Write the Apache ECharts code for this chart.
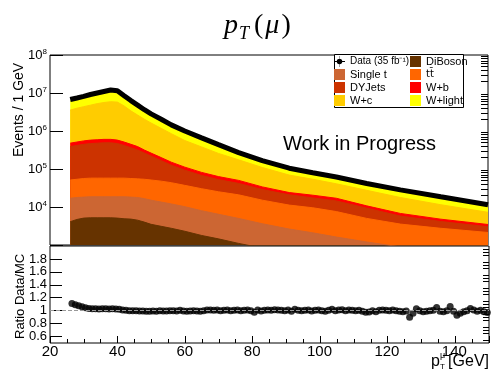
<!DOCTYPE html>
<html><head><meta charset="utf-8">
<script src="https://cdn.jsdelivr.net/npm/echarts@6/dist/echarts.min.js"></script>
<style>html,body{margin:0;padding:0;background:#fff}#c{width:491px;height:381px}</style>
</head><body><div id="c"></div>
<script>
// ---------- data ----------
const pT = [26,28,30,32,34,36,38,40,42,44,46,48,50,53,56,60,65,70,76,83,91,98,105,114,124,136,150];
const diBoson   = [4100,4700,5100,5200,5200,5200,5200,5100,4900,4800,4500,4000,3500,3100,2750,2300,1780,1450,1100,830,600,470,370,280,210,150,105];
const singleTop = [12900,13100,13100,13400,13400,13400,13400,13500,13700,13400,13300,12600,11600,10400,9300,7900,6200,5000,3900,2800,2030,1620,1250,920,680,480,310];
const ttbar     = [34300,35900,38000,38900,38900,38900,38900,38900,38900,38000,37200,37100,36200,34400,31600,26900,22300,18700,15900,11500,8600,7460,5960,3810,2660,2120,1720];
const dyJets    = [338000,363000,390000,410000,421000,432000,432000,410000,359000,307000,261000,209000,167000,118000,82000,56000,37400,27400,20800,13700,9700,7830,6870,4320,2210,1410,880];
const wPlusB    = [90000,96000,103000,108000,110000,113000,113000,108000,96000,84000,73000,53000,44000,34000,25500,18900,13700,10600,8400,5000,3100,3040,2530,1380,1010,620,450];
const wPlusC    = [3070000,3470000,3820000,4210000,4660000,5020000,5290000,5180000,4060000,2940000,2240000,1730000,1360000,975000,700000,450000,299000,194000,124000,75800,45200,33300,23800,16800,11000,6700,3780];
const wPlusLight= [2620000,2940000,3400000,4130000,4520000,5090000,5860000,5470000,3940000,2920000,2160000,1590000,1200000,867000,594000,438000,265000,170000,89000,56300,35500,25700,20900,14100,10400,7140,4240];
const dataEvents= [6760000,7410000,8130000,9120000,10000000,10960000,12000000,11500000,8510000,6310000,4790000,3630000,2820000,2040000,1450000,1000000,661000,437000,269000,166000,105000,79400,61700,41700,28200,18600,11500];

// ratio Data/MC, 1 GeV bins starting at 26 GeV
const ratioFirstBin = 26;
const ratioValues = [1.11,1.09,1.075,1.06,1.045,1.035,1.03,1.03,1.025,1.03,1.03,1.025,1.03,1.025,1.02,1.01,1.005,1.0,1.0,1.0,
0.995,0.995,0.99,0.99,0.995,0.99,1.0,0.995,0.995,1.0,1.0,0.995,1.005,0.995,0.99,0.995,1.0,0.995,0.99,1.0,
1.01,1.01,1.005,1.01,1.0,1.005,1.01,1.0,1.005,1.01,1.0,1.005,1.01,1.0,0.975,1.01,0.995,1.005,1.01,1.005,
1.015,1.01,1.005,1.0,1.01,0.99,1.02,1.005,1.0,1.005,1.01,0.995,1.005,1.01,1.0,0.99,1.005,1.02,1.0,1.01,
1.015,1.0,1.01,1.005,1.0,1.005,0.99,0.975,0.98,1.0,0.985,1.005,1.01,1.005,1.0,1.01,1.0,0.99,0.985,0.995,
0.9,0.96,1.03,1.0,0.985,0.99,1.0,1.005,1.05,0.99,0.985,1.0,1.065,0.99,0.93,0.96,0.985,1.0,1.035,1.01,
0.99,1.005,0.985,0.97];

// tick labels / tick positions
const xTickStep = 20;
const logMultipliers = [2,3,4,5,6,7,8,9];
const logDecades = [1e3,1e4,1e5,1e6,1e7];
const ratioMajorTicks = [0.6,0.8,1.0,1.2,1.4,1.6,1.8];
const ratioTickLabels = ['0.6','0.8','1','1.2','1.4','1.6','1.8'];
const ratioMinorTicks = [0.55,0.65,0.7,0.75,0.85,0.9,0.95,1.05,1.1,1.15,1.25,1.3,1.35,1.45,1.5,1.55,1.65,1.7,1.75,1.85,1.9,1.95];

const processes = [
  {name:'DiBoson',  vals:diBoson,   color:'#663300'},
  {name:'Single t', vals:singleTop, color:'#cc6633'},
  {name:'tt\u0304', vals:ttbar,     color:'#ff6600'},
  {name:'DYJets',   vals:dyJets,    color:'#cc3300'},
  {name:'W+b',      vals:wPlusB,    color:'#ff0000'},
  {name:'W+c',      vals:wPlusC,    color:'#ffcc00'},
  {name:'W+light',  vals:wPlusLight,color:'#ffff00'}
];
const dataName = 'Data (35 fb\u207B\u00B9)';
// ---------- build ----------
let cum = pT.map(() => 0);
const stacked = processes.map(p => { cum = cum.map((s,i) => s + p.vals[i]); return Object.assign({}, p, {top: cum.slice()}); });
const FONT = 'Liberation Sans';

const areaSeries = stacked.slice().reverse().map(p => ({
  type:'line', name:p.name, xAxisIndex:0, yAxisIndex:0,
  data: pT.map((x,i) => [x, p.top[i]]),
  symbol:'none', color:p.color,
  lineStyle:{width:1, color:p.color},
  areaStyle:{color:p.color, opacity:1, origin:'start'},
  silent:true, z:2
}));

const logMinor = [];
logDecades.forEach(d => logMultipliers.forEach(m => logMinor.push(Math.log10(m*d))));

const dataIcon = 'path://M0,5.5h12v1h-12zM6,3a3,3,0,1,1,0,6a3,3,0,1,1,0,-6zM5.8,0h0.4v12h-0.4z';

const chart = echarts.init(document.getElementById('c'), null, {renderer:'canvas'});
const legendCommon = {orient:'vertical', top:56, itemWidth:11, itemHeight:11, itemGap:2, icon:'rect', padding:0, z:6,
  selectedMode:false, textStyle:{fontFamily:FONT, fontSize:11, color:'#000'}};

chart.setOption({
  animation:false,
  backgroundColor:'#fff',
  title:{
    text:'{a|p}{b|T}{c|(}{a|\u03BC}{c|)}', left:218, top:4,
    textStyle:{fontWeight:'normal', rich:{
      a:{fontFamily:'Liberation Serif', fontStyle:'italic', fontWeight:'normal', fontSize:28, lineHeight:34, color:'#000', padding:[0,1,0,1]},
      b:{fontFamily:'Liberation Serif', fontStyle:'italic', fontWeight:'normal', fontSize:18, verticalAlign:'bottom', color:'#000', padding:[0,4,0,0]},
      c:{fontFamily:'Liberation Serif', fontWeight:'normal', fontSize:28, lineHeight:34, color:'#000', padding:[0,1,0,1]}
    }}
  },
  grid:[
    {left:50, right:2, top:55, height:190, show:true, borderColor:'#000', borderWidth:1, backgroundColor:'transparent'},
    {left:50, right:2, top:246, height:97, show:true, borderColor:'#000', borderWidth:1, backgroundColor:'transparent'}
  ],
  xAxis:[
    {type:'value', gridIndex:0, min:20, max:150, interval:xTickStep, position:'bottom', offset:98,
     axisLine:{show:false}, axisTick:{show:false}, splitLine:{show:false},
     axisLabel:{fontFamily:FONT, fontSize:15, lineHeight:14, color:'#000', margin:2, formatter:v => (v % xTickStep === 0 && v < 150) ? String(v) : ''}},
    {type:'value', gridIndex:1, min:20, max:150, interval:xTickStep, axisLine:{show:false},
     axisTick:{show:true, inside:true, length:7, lineStyle:{color:'#000'}},
     minorTick:{show:true, splitNumber:4, length:4, lineStyle:{color:'#000'}},
     axisLabel:{show:false}, splitLine:{show:false}}
  ],
  yAxis:[
    {type:'log', gridIndex:0, logBase:10, min:1e3, max:1e8, axisLine:{show:false},
     axisTick:{show:true, inside:true, length:13, lineStyle:{color:'#000'}},
     axisLabel:{margin:3, color:'#000', formatter:v => { const e = Math.round(Math.log10(v)); return e === 3 ? '' : '{b|10}{s|' + e + '}'; },
       rich:{b:{fontFamily:FONT, fontSize:13, color:'#000'}, s:{fontFamily:FONT, fontSize:8, color:'#000', verticalAlign:'top', padding:[0,0,6,0]}}},
     splitLine:{show:false}},
    {type:'value', gridIndex:0, min:3, max:8, axisLine:{show:false},
     axisTick:{show:true, inside:true, length:7, customValues:logMinor, lineStyle:{color:'#000'}},
     axisLabel:{show:false}, splitLine:{show:false}},
    {type:'value', gridIndex:1, min:0.5, max:2.0, axisLine:{show:false},
     axisTick:{show:true, inside:true, length:12, customValues:ratioMajorTicks, lineStyle:{color:'#000'}},
     axisLabel:{show:false}, splitLine:{show:false}},
    {type:'value', gridIndex:1, min:0.5, max:2.0, axisLine:{show:false},
     axisTick:{show:true, inside:true, length:6, customValues:ratioMinorTicks, lineStyle:{color:'#000'}},
     axisLabel:{show:false}, splitLine:{show:false}}
  ],
  legend:[
    Object.assign({left:410, data:[processes[0].name, {name:processes[2].name, textStyle:{fontFamily:'DejaVu Sans', fontSize:10}}, 'W+b', 'W+light']}, legendCommon),
    Object.assign({left:334, data:[{name:dataName, icon:dataIcon, textStyle:{fontSize:10}}, 'Single t', 'DYJets', 'W+c']}, legendCommon)
  ],
  series: areaSeries.concat([
    {type:'line', name:dataName, xAxisIndex:0, yAxisIndex:0, data:pT.map((x,i) => [x, dataEvents[i]]),
     symbol:'none', color:'#000', lineStyle:{width:5, color:'#000'}, z:3, silent:true},
    {type:'scatter', name:'unity', xAxisIndex:1, yAxisIndex:2, data:[], z:1,
     markLine:{silent:true, symbol:'none', label:{show:false}, lineStyle:{color:'#999', type:'dashed', width:1}, data:[{yAxis:1}]}},
    {type:'scatter', name:'Ratio', xAxisIndex:1, yAxisIndex:2, z:3, symbolSize:7, itemStyle:{color:'#000'},
     data: ratioValues.map((r,i) => [ratioFirstBin + 0.5 + i, r])}
  ])
});

// ratio-axis tick labels placed through the library's own scale
const axisLeftPx = chart.convertToPixel({xAxisIndex:1}, 20);
const ratioLabelGraphics = ratioMajorTicks.map((v, i) => ({
  type:'text', z:5, x: axisLeftPx - 3, y: chart.convertToPixel({yAxisIndex:2}, v),
  style:{text: ratioTickLabels[i], font:'13px "Liberation Sans"', fill:'#000', textAlign:'right', textVerticalAlign:'middle'}
}));

chart.setOption({
  graphic: [
    {type:'rect', z:3, shape:{x:334.5, y:54.5, width:129, height:53}, style:{fill:'#fff', stroke:'#000', lineWidth:1}},
    {type:'text', z:5, x:283, y:134, style:{text:'Work in Progress', font:'20px "Liberation Sans"', fill:'#000'}},
    {type:'text', z:5, x:12, y:157, rotation:Math.PI/2, style:{text:'Events / 1 GeV', font:'14px "Liberation Sans"', fill:'#000', textAlign:'left', textVerticalAlign:'top'}},
    {type:'text', z:5, x:14, y:339, rotation:Math.PI/2, style:{text:'Ratio Data/MC', font:'13px "Liberation Sans"', fill:'#000', textAlign:'left', textVerticalAlign:'top'}},
    {type:'text', z:5, x:431, y:354, style:{text:'p', font:'16px "Liberation Sans"', fill:'#000'}},
    {type:'text', z:5, x:440, y:351, style:{text:'\u03BC', font:'9px "Liberation Sans"', fill:'#000'}},
    {type:'text', z:5, x:440, y:363, style:{text:'T', font:'8px "Liberation Sans"', fill:'#000'}},
    {type:'text', z:5, x:489, y:354, style:{text:'[GeV]', font:'16px "Liberation Sans"', fill:'#000', textAlign:'right'}}
  ].concat(ratioLabelGraphics)
});
</script>
</body></html>
